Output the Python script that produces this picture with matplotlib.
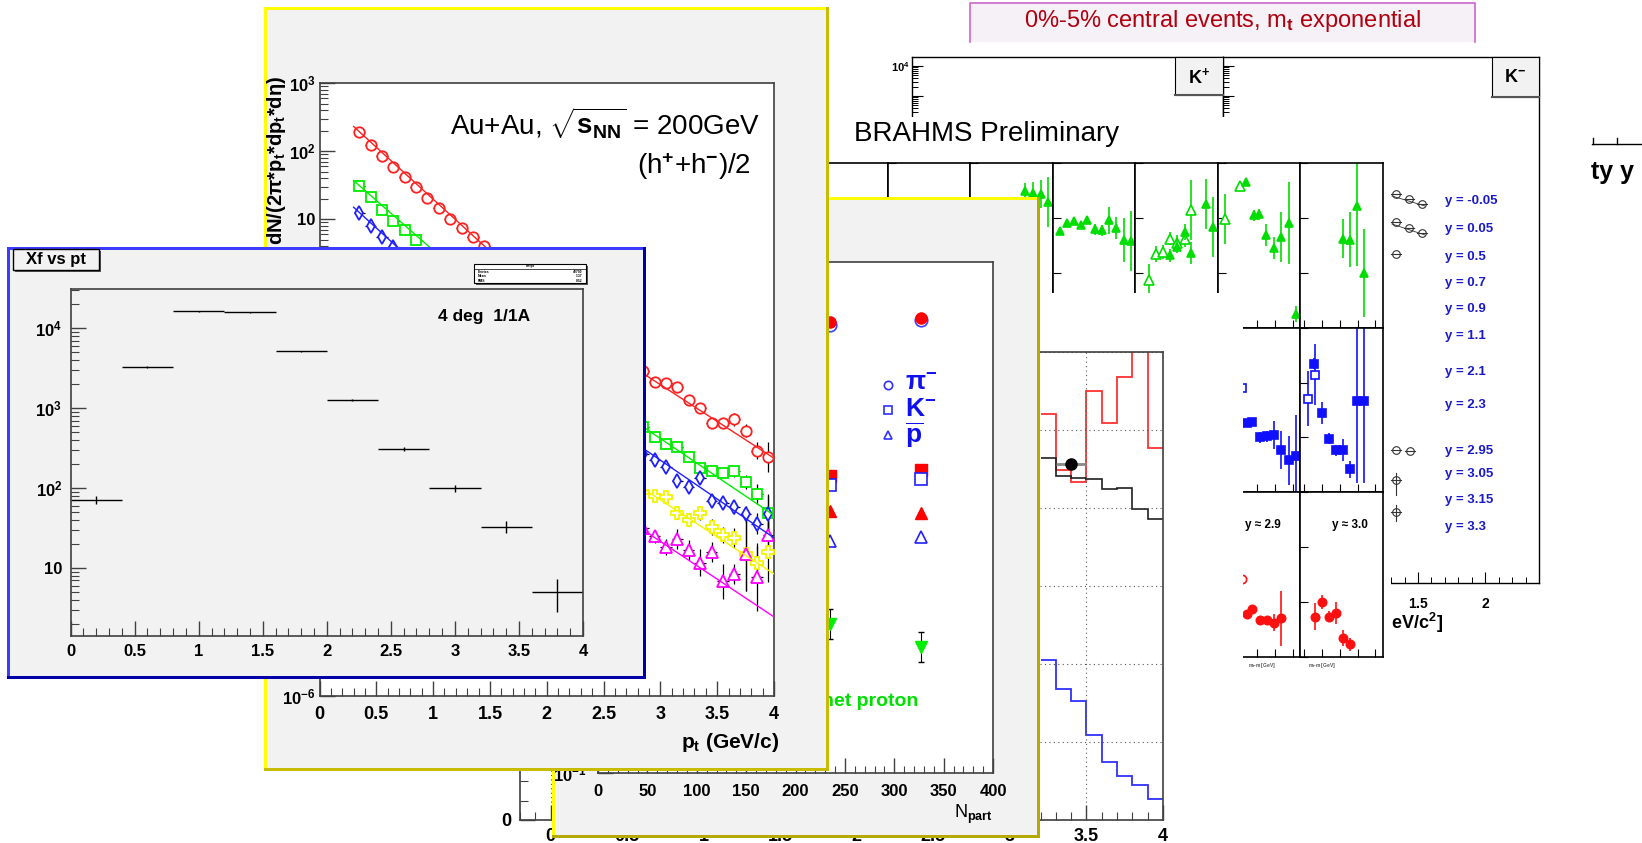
import numpy as np
import matplotlib
matplotlib.use("Agg")
import matplotlib.pyplot as plt
from matplotlib.patches import Rectangle
from matplotlib.ticker import LogLocator, MultipleLocator, NullFormatter, FuncFormatter

plt.rcParams["font.family"] = ["Liberation Sans", "DejaVu Sans"]
plt.rcParams["font.weight"] = "bold"
plt.rcParams["mathtext.fontset"] = "custom"
plt.rcParams["mathtext.rm"] = "Liberation Sans"
plt.rcParams["mathtext.it"] = "Liberation Sans:italic"
plt.rcParams["mathtext.bf"] = "Liberation Sans:bold"

# ======================= DATA =======================
# --- "Xf vs pt" histogram (bins of 0.4) ---
xf_bin_centers = [0.2, 0.6, 1.0, 1.4, 1.8, 2.2, 2.6, 3.0, 3.4, 3.8]
xf_counts = [71, 3280, 16300, 15800, 5150, 1260, 310, 99, 33, 5.0]
xf_errors = [8.4, 57, 128, 126, 72, 35, 18, 10, 5.7, 2.2]
xf_bin_halfwidth = 0.2

# --- Au+Au 200 GeV (h+ + h-)/2 spectra (visible points) ---
pt_x_low = [0.35, 0.45, 0.55, 0.65, 0.75, 0.85, 0.95, 1.05, 1.15, 1.25, 1.35, 1.45]
pt_x_high = [2.85, 2.95, 3.05, 3.15, 3.25, 3.35, 3.45, 3.55, 3.65, 3.75, 3.85, 3.95]
red_low = [190, 123, 85, 59, 42, 30, 20.4, 14.5, 10.2, 7.4, 5.5, 4.0]
green_low = [31, 21, 13.8, 9.5, 6.9, 4.9]
blue_low = [12.3, 7.9, 5.4, 3.9]
red_high = [0.060, 0.041, 0.039, 0.034, 0.022, 0.017, 0.0102, 0.0102, 0.0115, 0.0079, 0.0040, 0.0032]
green_high = [8.9e-3, 6.3e-3, 5.0e-3, 4.6e-3, 3.2e-3, 2.2e-3, 2.0e-3, 1.9e-3, 2.0e-3, 1.4e-3, 9.3e-4, 4.9e-4]
blue_high = [3.6e-3, 2.95e-3, 2.3e-3, 1.45e-3, 1.17e-3, 1.6e-3, 7.4e-4, 6.9e-4, 5.9e-4, 4.7e-4, 3.4e-4, 4.7e-4]
yellow_high = [1.0e-3, 8.7e-4, 8.3e-4, 4.8e-4, 3.9e-4, 4.8e-4, 3.0e-4, 2.3e-4, 2.1e-4, 1.23e-4, 9.1e-5, 1.32e-4]
magenta_high = [2.9e-4, 2.2e-4, 1.55e-4, 2.0e-4, 1.4e-4, 9.1e-5, 1.3e-4, 4.8e-5, 6.2e-5, 1.23e-4, 5.6e-5, 2.3e-4]
# errors in decades
red_high_err = [0.03, 0.03, 0.03, 0.03, 0.04, 0.05, 0.06, 0.08, 0.1, 0.1, 0.12, 0.22]
green_high_err = [0.04, 0.04, 0.04, 0.05, 0.05, 0.06, 0.06, 0.07, 0.08, 0.1, 0.15, 0.25]
blue_high_err = [0.05, 0.05, 0.05, 0.06, 0.06, 0.07, 0.08, 0.08, 0.1, 0.12, 0.15, 0.3]
yellow_high_err = [0.06, 0.06, 0.07, 0.08, 0.1, 0.1, 0.12, 0.12, 0.15, 0.55, 0.25, 0.45]
magenta_high_err = [0.1, 0.1, 0.12, 0.15, 0.15, 0.2, 0.15, 0.25, 0.15, 0.55, 0.5, 0.2]
low_err = 0.02
# fitted curves
fit_red_x, fit_red_y = [0.3, 1.5, 2.85, 4.0], [230, 3.4, 0.054, 0.0031]
fit_green_x, fit_green_y = [0.3, 1.0, 2.85, 4.0], [37, 3.5, 8.9e-3, 4.5e-4]
fit_blue_x, fit_blue_y = [0.3, 0.8, 2.85, 4.0], [15, 2.6, 4.3e-3, 2.1e-4]
fit_yellow_x, fit_yellow_y = [2.8, 4.0], [1.25e-3, 6.2e-5]
fit_magenta_x, fit_magenta_y = [2.8, 4.0], [3.1e-4, 1.45e-5]

# --- N_part panel ---
npart = [235, 327]
pim_red = [341, 365]
pim_blue = [321, 351]
km_red = [21.1, 23.7]
km_blue = [17.9, 20.0]
pbar_red = [11.3, 10.8]
pbar_blue = [6.6, 7.0]
netp = [1.47, 0.97]
netp_err = [0.12, 0.12]

# --- histogram panel (bins of 0.1) ---
hist_edges = [3.2, 3.3, 3.4, 3.5, 3.6, 3.7, 3.8, 3.9, 4.0]
hist_red = [5.20, 4.49, 4.33, 5.50, 5.09, 5.68, 6.5, 4.77]
hist_black = [4.64, 4.41, 4.38, 4.37, 4.25, 4.26, 3.99, 3.86]
hist_blue = [2.05, 1.68, 1.53, 1.09, 0.74, 0.56, 0.45, 0.27]
hist_point_x, hist_point_y, hist_point_xerr = [3.4], [4.56], [0.1]

# --- BRAHMS m_t spectra grid (x: mt-m0, y: yield; errors in decades) ---
r1c3_x = [0.57, 0.66, 0.75, 0.83]; r1c3_y = [31, 28, 27.5, 19.5]; r1c3_e = [0.15, 0.2, 0.25, 0.45]
r1c4_x = [0.03, 0.11, 0.19, 0.27, 0.34, 0.43, 0.51, 0.59, 0.67, 0.76, 0.84]
r1c4_y = [5.8, 8.1, 8.9, 7.4, 9.1, 6.3, 6.0, 9.1, 6.6, 4.0, 3.8]
r1c4_e = [0.06, 0.06, 0.05, 0.05, 0.06, 0.1, 0.1, 0.25, 0.2, 0.4, 0.55]
r1c5_open_x = [0.11, 0.19, 0.27, 0.34, 0.42, 0.51, 0.58]
r1c5_open_y = [0.74, 2.2, 2.4, 4.2, 3.5, 4.2, 14]
r1c5_open_e = [0.3, 0.15, 0.12, 0.12, 0.15, 0.15, 0.55]
r1c5_x = [0.34, 0.42, 0.51, 0.58, 0.75, 0.83]
r1c5_y = [2.1, 3.0, 5.6, 2.3, 17.8, 6.9]
r1c5_e = [0.12, 0.12, 0.15, 0.2, 0.45, 0.55]
r1c6_open_x = [0.04, 0.20]; r1c6_open_y = [9.5, 38]; r1c6_open_e = [0.45, 0.08]
r1c6_x = [0.27, 0.36, 0.42, 0.50, 0.59, 0.67, 0.76, 0.84]
r1c6_y = [45, 11.2, 11.7, 4.9, 2.8, 4.5, 8.1, 0.18]
r1c6_e = [0.08, 0.1, 0.1, 0.2, 0.2, 0.45, 0.75, 0.15]
r1c7_x = [0.43, 0.51, 0.59, 0.67]; r1c7_y = [4.2, 4.0, 16.6, 1.0]; r1c7_e = [0.35, 0.5, 1.1, 0.8]
r2c6_open_x = [0.23]; r2c6_open_y = [8.1]; r2c6_open_e = [0.3]
r2c6_x = [0.28, 0.34, 0.43, 0.51, 0.59, 0.67, 0.76, 0.84]
r2c6_y = [1.8, 1.9, 1.0, 1.05, 1.1, 0.58, 0.38, 0.45]
r2c6_e = [0.05, 0.08, 0.1, 0.1, 0.25, 0.35, 0.45, 0.75]
r2c7_open_x = [0.04, 0.12]; r2c7_open_y = [5.1, 14.1]; r2c7_open_e = [0.5, 0.55]
r2c7_x = [0.11, 0.20, 0.28, 0.36, 0.43, 0.51, 0.59, 0.67]
r2c7_y = [22.4, 2.75, 0.95, 0.58, 0.58, 0.26, 4.7, 4.7]
r2c7_e = [0.1, 0.2, 0.1, 0.1, 0.2, 0.15, 1.5, 1.5]
r3c6_open_x = [0.23]; r3c6_open_y = [2.6]; r3c6_open_e = [0.1]
r3c6_x = [0.28, 0.34, 0.43, 0.51, 0.59, 0.67]
r3c6_y = [0.60, 0.74, 0.47, 0.47, 0.42, 0.51]
r3c6_e = [0.05, 0.08, 0.05, 0.08, 0.15, 0.5]
r3c7_x = [0.12, 0.20, 0.28, 0.36, 0.43, 0.51]
r3c7_y = [0.54, 1.0, 0.54, 0.63, 0.22, 0.17]
r3c7_e = [0.25, 0.12, 0.1, 0.2, 0.15, 0.12]
brahms_legend = ["y = -0.05", "y = 0.05", "y = 0.5", "y = 0.7", "y = 0.9", "y = 1.1",
                 "y = 2.1", "y = 2.3", "y = 2.95", "y = 3.05", "y = 3.15", "y = 3.3"]

# ======================= FIGURE =======================
W, H = 1642, 843
fig = plt.figure(figsize=(W / 100, H / 100), dpi=100)


def overlay(z):
    ax = fig.add_axes([0, 0, 1, 1], zorder=z)
    ax.set_xlim(0, W)
    ax.set_ylim(H, 0)
    ax.set_axis_off()
    return ax


def frame(x0, y0, x1, y1, z, face="white", ec="#404040", lw=1.2):
    ax = fig.add_axes([x0 / W, 1 - y1 / H, (x1 - x0) / W, (y1 - y0) / H], zorder=z)
    ax.set_facecolor(face)
    for s in ax.spines.values():
        s.set_color(ec)
        s.set_linewidth(lw)
    ax.tick_params(which="both", direction="in", top=False, right=False,
                   colors=ec, labelcolor="black")
    return ax


def pad(ov, x0, y0, x1, y1, face, light, dark, bw=3):
    ov.add_patch(Rectangle((x0, y0), x1 - x0, y1 - y0, facecolor=face, edgecolor="none"))
    ov.add_patch(Rectangle((x0, y0), x1 - x0, bw, facecolor=light, edgecolor="none"))
    ov.add_patch(Rectangle((x0, y0), bw, y1 - y0, facecolor=light, edgecolor="none"))
    ov.add_patch(Rectangle((x0, y1 - bw), x1 - x0, bw, facecolor=dark, edgecolor="none"))
    ov.add_patch(Rectangle((x1 - bw, y0), bw, y1 - y0, facecolor=dark, edgecolor="none"))


def fmt_g(v, p):
    if abs(v) < 1e-9:
        return "0"
    return "%g" % v


def root_log(v, p):
    e = int(round(np.log10(v)))
    if e == 0:
        return "1"
    if e == 1:
        return "10"
    return r"$\mathbf{10^{%d}}$" % e


def logerr(y, e):
    y = np.asarray(y, float)
    e = np.asarray(e, float)
    return [y - y / 10 ** e, y * 10 ** e - y]


def set_log_y(ax, numticks=40):
    ax.yaxis.set_major_locator(LogLocator(base=10, numticks=numticks))
    ax.yaxis.set_minor_locator(LogLocator(base=10, subs=np.arange(2, 10), numticks=numticks))
    ax.yaxis.set_minor_formatter(NullFormatter())


# ---------------- layer 1 : K+/K- panels (back) ----------------
ovK = overlay(1.0)
ovK.add_patch(Rectangle((970, 3), 505, 39, facecolor="#f6f1f6", edgecolor="none"))
ovK.plot([970, 970, 1475, 1475], [42, 3, 3, 42], color="#cc66cc", lw=1.2)
ovK.text(1222, 21, r"0%-5% central events, m$_{\rm t}$ exponential", color="#b00010",
         fontsize=17, fontweight="normal", ha="center", va="center")

kp = frame(912, 57, 1223, 583, 1.1, ec="black", lw=1.0)
km = frame(1223, 57, 1539, 583, 1.1, ec="black", lw=1.0)
for a in (kp, km):
    a.set_yscale("log")
    a.set_ylim(10 ** -13.23, 10 ** 4.3)
    a.set_xlim(0.05, 2.4)
    set_log_y(a)
    a.xaxis.set_major_locator(MultipleLocator(0.5))
    a.xaxis.set_minor_locator(MultipleLocator(0.1))
    a.tick_params(which="major", length=8, width=0.8)
    a.tick_params(which="minor", length=4, width=0.7)
kp.yaxis.set_major_formatter(FuncFormatter(
    lambda v, p: r"$\mathregular{10^{4}}$" if abs(np.log10(v) - 4) < 0.01 else ""))
kp.tick_params(labelbottom=False, labelsize=8, pad=2)
km.tick_params(labelleft=False, labelsize=10, pad=10)
km.xaxis.set_major_formatter(FuncFormatter(
    lambda v, p: r"$\mathregular{%g}$" % v if v > 1.2 else ""))

ovK2 = overlay(1.2)
for (bx0, by0, bx1, by1, lab) in [(1175, 57, 1223, 95, r"K$^{+}$"), (1492, 57, 1539, 97, r"K$^{-}$")]:
    ovK2.add_patch(Rectangle((bx0, by0), bx1 - bx0, by1 - by0, facecolor="#f2f2f2",
                             edgecolor="black", lw=0.8))
    ovK2.plot([bx0, bx1], [by1, by1], color="#555555", lw=1.5)
    ovK2.text((bx0 + bx1) / 2, (by0 + by1) / 2 + 1, lab, fontsize=13, ha="center", va="center")
ovK2.text(1443, 623, r"m$_{\rm t}$ - m$_{\rm 0}$ [GeV/c$^{2}$]", fontsize=13, ha="right", va="center")
ovK2.plot([1592, 1650], [144, 144], color="black", lw=1)
ovK2.plot([1593, 1593], [138, 144], color="black", lw=1)
ovK2.plot([1617, 1617], [138, 144], color="black", lw=1)
ovK2.text(1591, 172, "ty y", fontsize=18, ha="left", va="center")

# ---------------- layer 2 : BRAHMS grid ----------------
ovB = overlay(2.0)
ovB.add_patch(Rectangle((800, 117), 591, 726, facecolor="white", edgecolor="none"))
ovB.text(854, 134, "BRAHMS Preliminary", fontsize=20, fontweight="normal", ha="left", va="center")

cols_x = [805, 887.5, 970, 1052.5, 1135, 1217.5, 1300, 1382.5]
rows_y = [163, 328, 492, 657]
cells = {}
for r in range(3):
    for c in range(7):
        a = frame(cols_x[c], rows_y[r], cols_x[c + 1], rows_y[r + 1], 2.1, ec="black", lw=1.2)
        a.set_yscale("log")
        a.set_ylim(0.1, 100)
        a.set_xlim(-0.05, 0.88)
        a.yaxis.set_major_locator(LogLocator(base=10, numticks=10))
        a.yaxis.set_minor_locator(LogLocator(base=10, subs=[], numticks=10))
        a.xaxis.set_major_locator(MultipleLocator(0.2))
        a.tick_params(which="major", length=6, width=0.8, labelleft=False, labelbottom=False)
        cells[(r + 1, c + 1)] = a


def bpts(ax, x, y, e, color, marker, filled, ms=6):
    ax.errorbar(x, y, yerr=logerr(y, e), fmt="none", ecolor=color, elinewidth=1.2)
    ax.plot(x, y, ls="none", marker=marker, ms=ms, mfc=color if filled else "white",
            mec=color, mew=1.2)


G, B, R = "#00dd00", "#1010ff", "#ff1010"
bpts(cells[(1, 3)], r1c3_x, r1c3_y, r1c3_e, G, "^", True)
bpts(cells[(1, 4)], r1c4_x, r1c4_y, r1c4_e, G, "^", True)
bpts(cells[(1, 5)], r1c5_open_x, r1c5_open_y, r1c5_open_e, G, "^", False, ms=7)
bpts(cells[(1, 5)], r1c5_x, r1c5_y, r1c5_e, G, "^", True)
bpts(cells[(1, 6)], r1c6_open_x, r1c6_open_y, r1c6_open_e, G, "^", False, ms=7)
bpts(cells[(1, 6)], r1c6_x, r1c6_y, r1c6_e, G, "^", True)
bpts(cells[(1, 7)], r1c7_x, r1c7_y, r1c7_e, G, "^", True)
bpts(cells[(2, 6)], r2c6_open_x, r2c6_open_y, r2c6_open_e, B, "s", False, ms=6)
bpts(cells[(2, 6)], r2c6_x, r2c6_y, r2c6_e, B, "s", True)
bpts(cells[(2, 7)], r2c7_open_x, r2c7_open_y, r2c7_open_e, B, "s", False, ms=6)
bpts(cells[(2, 7)], r2c7_x, r2c7_y, r2c7_e, B, "s", True)
bpts(cells[(3, 6)], r3c6_open_x, r3c6_open_y, r3c6_open_e, R, "o", False)
bpts(cells[(3, 6)], r3c6_x, r3c6_y, r3c6_e, R, "o", True)
bpts(cells[(3, 7)], r3c7_x, r3c7_y, r3c7_e, R, "o", True)
cells[(3, 6)].text(0.55, 0.8, "y \u2248 2.9", transform=cells[(3, 6)].transAxes, fontsize=8.5,
                   ha="center", va="center")
cells[(3, 7)].text(0.6, 0.8, "y \u2248 3.0", transform=cells[(3, 7)].transAxes, fontsize=8.5,
                   ha="center", va="center")

ovB2 = overlay(2.2)
leg_y = [201, 229, 257, 283, 309, 336, 372, 405, 451, 474, 500, 527]
for lab, ly in zip(brahms_legend, leg_y):
    ovB2.text(1445, ly, lab, color="#1a1acc", fontsize=9.5, ha="left", va="center")
for (cx, cy) in [(1396, 194), (1409, 199), (1422, 204), (1396, 222), (1409, 228), (1422, 233),
                 (1396, 254), (1396, 450), (1410, 451), (1396, 480), (1396, 512)]:
    ovB2.plot([cx], [cy], marker="o", ms=5.5, mfc="none", mec="#333333", mew=0.8)
    ovB2.plot([cx - 5, cx + 5], [cy, cy], color="#333333", lw=0.8)
ovB2.plot([1396, 1396], [473, 495], color="#333333", lw=0.8)
ovB2.plot([1396, 1396], [505, 521], color="#333333", lw=0.8)
ovB2.plot([1392, 1425], [196, 206], color="#333333", lw=0.6)
ovB2.plot([1392, 1425], [224, 235], color="#333333", lw=0.6)
ovB2.text(1262, 667, r"m$_{\rm t}$-m [GeV]", fontsize=3.5, color="#555555", ha="center")
ovB2.text(1322, 667, r"m$_{\rm t}$-m [GeV]", fontsize=3.5, color="#555555", ha="center")

# ---------------- layer 3 : histogram pad ----------------
ovH = overlay(3.0)
ovH.add_patch(Rectangle((470, 293), 773, 550, facecolor="white", edgecolor="none"))
hx = frame(520, 352, 1163, 820, 3.1, ec="#404040", lw=1.2)
hx.set_xlim(-0.2, 4.0)
hx.set_ylim(0, 6)
hx.xaxis.set_major_locator(MultipleLocator(0.5))
hx.xaxis.set_minor_locator(MultipleLocator(0.1))
hx.yaxis.set_major_locator(MultipleLocator(1))
hx.yaxis.set_minor_locator(MultipleLocator(0.25))
hx.xaxis.set_major_formatter(FuncFormatter(fmt_g))
hx.yaxis.set_major_formatter(FuncFormatter(lambda v, p: "0" if abs(v) < 1e-9 else ""))
hx.tick_params(which="major", length=11, width=1, labelsize=13, pad=6)
hx.tick_params(which="minor", length=5.5, width=0.8)
hx.grid(True, which="major", ls=(0, (1, 3)), color="#555555", lw=0.8)
hx.stairs(hist_red, hist_edges, baseline=None, color="#ff3030", lw=1.3)
hx.stairs(hist_black, hist_edges, baseline=None, color="#202020", lw=1.2)
hx.stairs(hist_blue, hist_edges, baseline=None, color="#3030ff", lw=1.3)
hx.errorbar(hist_point_x, hist_point_y, xerr=hist_point_xerr, fmt="o", color="black",
            ecolor="#888888", ms=8, elinewidth=2)

# ---------------- layer 4 : N_part panel ----------------
ovN = overlay(4.0)
pad(ovN, 552, 197, 1040, 838, "#f2f2f2", "#ffff00", "#b4aa00", bw=3)
nx = frame(598, 262, 993, 773, 4.1, ec="#404040", lw=1.2)
nx.set_xlim(0, 400)
nx.set_yscale("log")
nx.set_ylim(0.1, 1000)
set_log_y(nx)
nx.yaxis.set_major_formatter(FuncFormatter(
    lambda v, p: r"$\mathbf{10^{-1}}$" if abs(np.log10(v) + 1) < 0.01 else ""))
nx.xaxis.set_major_locator(MultipleLocator(50))
nx.xaxis.set_minor_locator(MultipleLocator(10))
nx.xaxis.set_major_formatter(FuncFormatter(fmt_g))
nx.tick_params(which="major", length=11, width=1, labelsize=12, pad=8)
nx.tick_params(which="minor", length=5, width=0.8)
nx.plot(npart, pim_blue, ls="none", marker="o", ms=9, mfc="none", mec="#4040ff", mew=1.2)
nx.plot(npart, pim_red, ls="none", marker="o", ms=8, mfc="#ff0000", mec="#ff0000")
nx.plot(npart, km_red, ls="none", marker="s", ms=8, mfc="#ff0000", mec="#ff0000")
nx.plot(npart, km_blue, ls="none", marker="s", ms=8, mfc="white", mec="#2020ff", mew=1.2)
nx.plot(npart, pbar_red, ls="none", marker="^", ms=8, mfc="#ff0000", mec="#ff0000")
nx.plot(npart, pbar_blue, ls="none", marker="^", ms=8, mfc="white", mec="#2020ff", mew=1.2)
nx.errorbar(npart, netp, yerr=logerr(netp, netp_err), fmt="v", ms=8, color="#00ee00",
            ecolor="black", elinewidth=0.8, capsize=2)

ovN2 = overlay(4.2)
ovN2.plot([888], [385], marker="o", ms=6, mfc="none", mec="#3030ff", mew=1.2)
ovN2.plot([888], [410], marker="s", ms=6, mfc="none", mec="#3030ff", mew=1.2)
ovN2.plot([888], [435], marker="^", ms=6, mfc="none", mec="#3030ff", mew=1.2)
ovN2.text(905, 383, r"$\mathbf{\pi^{-}}$", color="#1010ee", fontsize=19, ha="left", va="center")
ovN2.text(905, 409, r"$\mathbf{K^{-}}$", color="#1010ee", fontsize=19, ha="left", va="center")
ovN2.text(905, 435, r"$\mathbf{\overline{p}}$", color="#1010ee", fontsize=19, ha="left", va="center")
ovN2.text(918, 701, "net proton", color="#00e000", fontsize=14, ha="right", va="center")
ovN2.text(993, 814, r"N$_{\rm part}$", fontsize=13, fontweight="normal", ha="right", va="center")

# ---------------- layer 5 : pt spectra panel ----------------
ovP = overlay(5.0)
pad(ovP, 264, 7, 829, 771, "#f2f2f2", "#ffff00", "#c8bc00", bw=3)
ovP.text(277, 76, r"1/N$_{\rm evt}$ dN/(2$\mathbf{\pi}$*p$_{\rm t}$*dp$_{\rm t}$*d$\mathbf{\eta}$)",
         rotation=90, fontsize=14.5, ha="center", va="top")
ovP.text(779, 743, r"$\mathbf{p_{t}}$ (GeV/c)", fontsize=15, ha="right", va="center")

px_ = frame(319.5, 83, 774, 696, 5.1, ec="#404040", lw=1.2)
px_.set_xlim(0, 4)
px_.set_yscale("log")
px_.set_ylim(1e-6, 1e3)
set_log_y(px_)
px_.yaxis.set_major_formatter(FuncFormatter(root_log))
px_.xaxis.set_major_locator(MultipleLocator(0.5))
px_.xaxis.set_minor_locator(MultipleLocator(0.1))
px_.xaxis.set_major_formatter(FuncFormatter(fmt_g))
px_.tick_params(which="major", length=11, width=1, labelsize=13, pad=7)
px_.tick_params(axis="y", which="major", labelsize=12, pad=3)
px_.tick_params(which="minor", length=5.5, width=0.8)


def pt_series(ax, xs, ys, es, fx, fy, color, marker, ms):
    ax.errorbar(xs, ys, xerr=0.05, yerr=logerr(ys, es), fmt="none", ecolor="black",
                elinewidth=0.9, zorder=2)
    ax.plot(xs, ys, ls="none", marker=marker, mfc="white", mec=color, ms=ms, mew=1.3, zorder=3)
    ax.plot(fx, fy, color=color, lw=1.0, zorder=4)


pt_series(px_, pt_x_low[:12] + pt_x_high, red_low + red_high, [low_err] * 12 + red_high_err,
          fit_red_x, fit_red_y, "#ff2020", "o", 7.5)
pt_series(px_, pt_x_low[:6] + pt_x_high, green_low + green_high, [low_err] * 6 + green_high_err,
          fit_green_x, fit_green_y, "#00ee00", "s", 7.5)
pt_series(px_, pt_x_low[:4] + pt_x_high, blue_low + blue_high, [low_err] * 4 + blue_high_err,
          fit_blue_x, fit_blue_y, "#2020ff", "d", 7.5)
pt_series(px_, pt_x_high, yellow_high, yellow_high_err, fit_yellow_x, fit_yellow_y, "#f4f400", "P", 8.5)
pt_series(px_, pt_x_high, magenta_high, magenta_high_err, fit_magenta_x, fit_magenta_y, "#ff00ff", "^", 8)
px_.text(0.97, 0.935, r"Au+Au, $\sqrt{\mathrm{s}_{\mathrm{NN}}}$ = 200GeV", transform=px_.transAxes,
         fontsize=20, fontweight="normal", ha="right", va="center")
px_.text(0.95, 0.865, r"(h$^{+}$+h$^{-}$)/2", transform=px_.transAxes,
         fontsize=20, fontweight="normal", ha="right", va="center")

# ---------------- layer 6 : "Xf vs pt" panel (front) ----------------
ovX = overlay(6.0)
pad(ovX, 7, 247, 646, 679, "#f2f2f2", "#3c3cff", "#0000a8", bw=3)
ovX.add_patch(Rectangle((15, 251), 86, 21, facecolor="#555555", edgecolor="none"))
ovX.add_patch(Rectangle((13, 249), 86, 21, facecolor="#f2f2f2", edgecolor="black", lw=1.0))
ovX.text(56, 259.5, "Xf vs pt", fontsize=12, ha="center", va="center")
ovX.add_patch(Rectangle((476, 266), 112, 19, facecolor="#555555", edgecolor="none"))
ovX.add_patch(Rectangle((474, 264), 112, 19, facecolor="white", edgecolor="black", lw=0.8))
ovX.plot([474, 586], [268.5, 268.5], color="black", lw=0.5)
ovX.text(530, 266.3, "hXfpt", fontsize=2.4, ha="center", va="center")
for i, (k, v) in enumerate([("Entries", "42790"), ("Mean", "1.37"), ("RMS", "0.52")]):
    ovX.text(478, 272 + 4.4 * i, k, fontsize=2.4, ha="left", va="center")
    ovX.text(582, 272 + 4.4 * i, v, fontsize=2.4, ha="right", va="center")

fx_ = frame(70.6, 289, 583, 636, 6.1, face="#f2f2f2", ec="#404040", lw=1.2)
fx_.set_xlim(0, 4)
fx_.set_yscale("log")
fx_.set_ylim(1.41, 3.1e4)
set_log_y(fx_)
fx_.yaxis.set_major_formatter(FuncFormatter(root_log))
fx_.xaxis.set_major_locator(MultipleLocator(0.5))
fx_.xaxis.set_minor_locator(MultipleLocator(0.1))
fx_.xaxis.set_major_formatter(FuncFormatter(fmt_g))
fx_.tick_params(which="major", length=11, width=1, labelsize=12, pad=6)
fx_.tick_params(which="minor", length=6, width=0.8)
fx_.errorbar(xf_bin_centers, xf_counts, xerr=xf_bin_halfwidth, yerr=xf_errors, fmt="none",
             ecolor="black", elinewidth=1.0)
fx_.text(484, 316, "4 deg  1/1A", fontsize=12.5, ha="center", va="center",
         transform=ovX.transData)

fig.savefig("out.png", dpi=100)
